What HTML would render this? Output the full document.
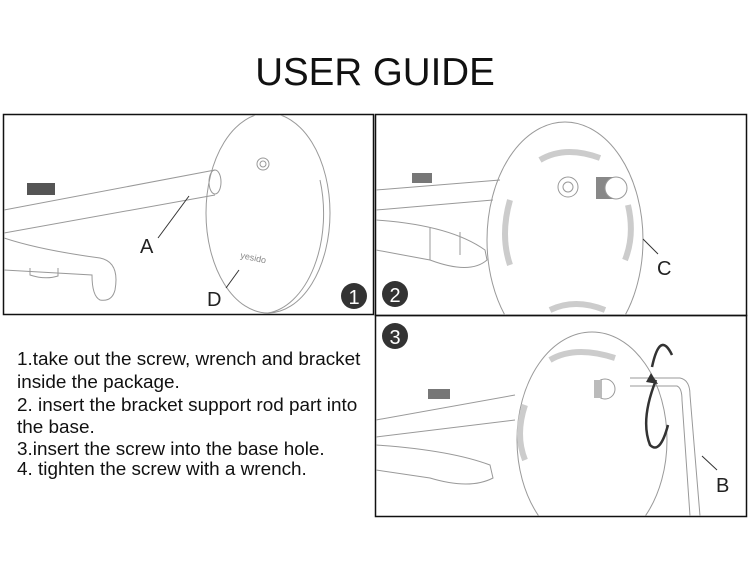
<!DOCTYPE html>
<html><head><style>
body{margin:0;width:750px;height:560px;background:#fff;overflow:hidden;font-family:"Liberation Sans",sans-serif}
</style></head><body>
<svg width="750" height="560" xmlns="http://www.w3.org/2000/svg" font-family="Liberation Sans, sans-serif">
<defs>
<clipPath id="c1"><rect x="4" y="115" width="369" height="199"/></clipPath>
<clipPath id="c2"><rect x="376" y="115" width="370" height="200"/></clipPath>
<clipPath id="c3"><rect x="376" y="316" width="370" height="200"/></clipPath>
</defs>
<text x="375" y="85" text-anchor="middle" font-size="38.5" fill="#111">USER GUIDE</text>
<g fill="none" stroke="#111" stroke-width="1.5">
<rect x="3.5" y="114.5" width="370" height="200"/>
<rect x="375.5" y="114.5" width="371" height="201"/>
<rect x="375.5" y="315.5" width="371" height="201"/>
</g>
<!-- panel 1 -->
<g clip-path="url(#c1)">
<g fill="none" stroke="#999" stroke-width="1">
<path d="M4 210 L215 170 M4 233 L215 195"/>
<ellipse cx="215" cy="182" rx="6" ry="12"/>
<ellipse cx="268" cy="213" rx="62" ry="100"/>
<path d="M320 180 A62 100 0 0 1 268 313"/>
<circle cx="263" cy="164" r="6"/><circle cx="263" cy="164" r="3"/>
<path d="M4 238 Q40 250 100 258 Q120 262 115 290 Q112 302 100 300 Q92 296 92 275 L4 270"/>
<path d="M30 268 L30 275 Q45 280 58 276 L58 268"/>
</g>
<rect x="27" y="183" width="28" height="12" fill="#555"/>
</g>
<g stroke="#333" stroke-width="1"><line x1="189" y1="196" x2="158" y2="238"/><line x1="239" y1="270" x2="226" y2="288"/></g>
<text x="240" y="258" font-size="9" fill="#888" transform="rotate(12 240 258)">yesido</text>
<text x="140" y="253" font-size="20" fill="#222">A</text>
<text x="207" y="306" font-size="20" fill="#222">D</text>
<circle cx="354" cy="296" r="13" fill="#333"/><text x="354" y="304" text-anchor="middle" font-size="20" fill="#fff">1</text>
<!-- panel 2 -->
<g clip-path="url(#c2)">
<g fill="none" stroke="#999" stroke-width="1">
<ellipse cx="565" cy="240" rx="78" ry="118"/>
<path d="M376 190 L500 180 M376 210 L493 200"/>
<circle cx="568" cy="187" r="10"/><circle cx="568" cy="187" r="5"/>
<path d="M376 220 Q450 225 485 250 L487 260 Q470 275 430 260 L376 250"/>
<path d="M430 228 L430 260 M460 232 L460 255"/>
<path d="M540 160 Q565 145 600 158" stroke-width="6" stroke="#ccc"/>
<path d="M510 200 Q500 235 510 265" stroke-width="6" stroke="#ccc"/>
<path d="M628 205 Q635 235 625 260" stroke-width="6" stroke="#ccc"/>
<path d="M550 310 Q575 298 605 310" stroke-width="6" stroke="#ccc"/>
</g>
<rect x="596" y="177" width="20" height="22" fill="#888"/><circle cx="616" cy="188" r="11" fill="#fff" stroke="#999"/>
<rect x="412" y="173" width="20" height="10" fill="#777"/>
</g>
<line x1="643" y1="239" x2="658" y2="254" stroke="#333"/>
<text x="657" y="275" font-size="20" fill="#222">C</text>
<circle cx="395" cy="294" r="13" fill="#333"/><text x="395" y="302" text-anchor="middle" font-size="20" fill="#fff">2</text>
<!-- panel 3 -->
<g clip-path="url(#c3)">
<g fill="none" stroke="#999" stroke-width="1">
<ellipse cx="592" cy="440" rx="75" ry="108"/>
<path d="M376 420 L515 395 M376 437 L515 420"/>
<circle cx="605" cy="389" r="10"/>
<path d="M630 378 L680 378 Q690 380 690 395 L700 516 M630 386 L677 386 Q682 388 682 400 L690 516"/>
<path d="M376 445 Q450 450 490 465 L493 478 Q470 490 430 478 L376 470"/>
<path d="M550 360 Q575 345 615 358" stroke-width="6" stroke="#ccc"/>
<path d="M525 405 Q515 435 525 460" stroke-width="6" stroke="#ccc"/>
</g>
<rect x="594" y="380" width="8" height="18" fill="#bbb"/>
<rect x="428" y="389" width="22" height="10" fill="#777"/>
</g>
<g fill="none" stroke="#333" stroke-width="2.5">
<path d="M652 367 Q660 330 672 355"/>
<path d="M656 380 Q640 420 650 445 Q660 455 668 425"/>
</g>
<path d="M651 373 L658 384 L646 382 Z" fill="#333"/>
<line x1="702" y1="456" x2="717" y2="470" stroke="#333"/>
<text x="716" y="492" font-size="20" fill="#222">B</text>
<circle cx="395" cy="336" r="13" fill="#333"/><text x="395" y="344" text-anchor="middle" font-size="20" fill="#fff">3</text>
<!-- text -->
<g font-size="18.9" fill="#111">
<text x="17" y="365">1.take out the screw, wrench and bracket</text>
<text x="17" y="388">inside the package.</text>
<text x="17" y="411">2. insert the bracket support rod part into</text>
<text x="17" y="433">the base.</text>
<text x="17" y="455">3.insert the screw into the base hole.</text>
<text x="17" y="475">4. tighten the screw with a wrench.</text>
</g>
</svg>
</body></html>
